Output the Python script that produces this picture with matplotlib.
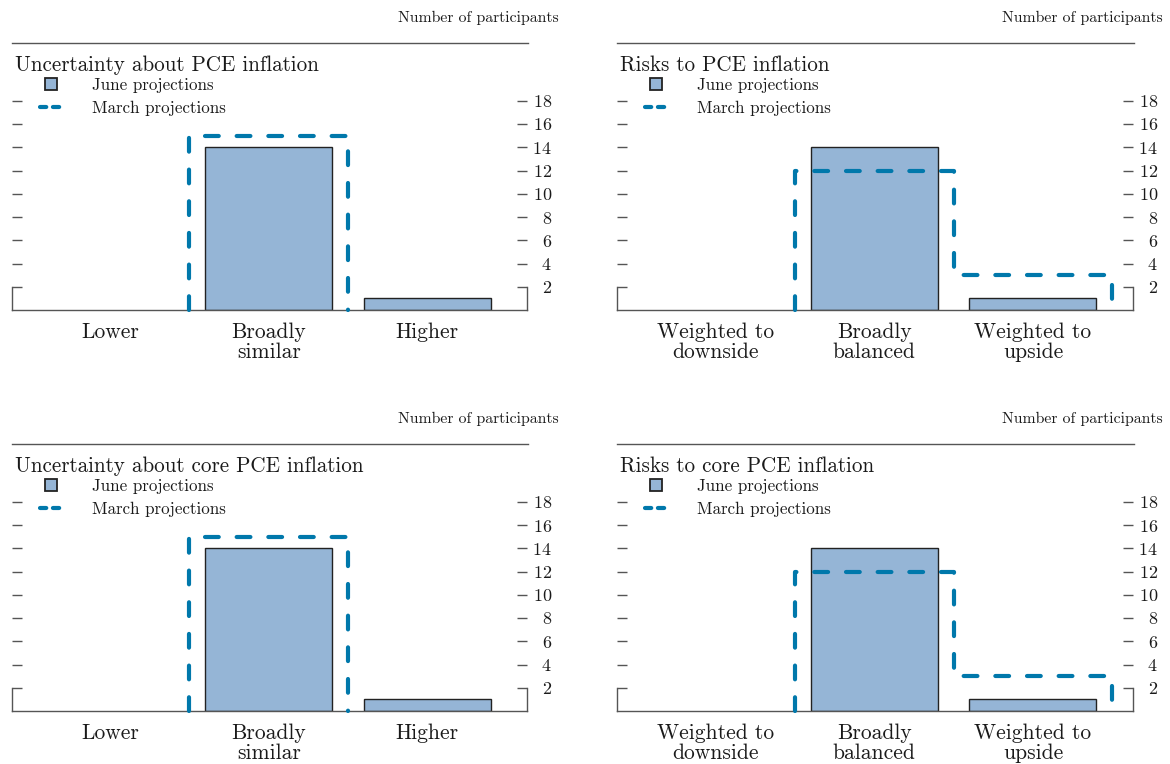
import matplotlib
matplotlib.use("Agg")
import matplotlib.pyplot as plt
from matplotlib.lines import Line2D

plt.rcParams['font.family'] = ['cmr10', 'DejaVu Serif']
plt.rcParams['axes.unicode_minus'] = False
plt.rcParams['mathtext.fontset'] = 'cm'
plt.rcParams['axes.formatter.use_mathtext'] = True

# ---- data ----
categories_uncertainty = ["Lower", "Broadly\nsimilar", "Higher"]
categories_risks = ["Weighted to\ndownside", "Broadly\nbalanced", "Weighted to\nupside"]

june_pce_uncertainty = [0, 14, 1]
march_pce_uncertainty = [0, 15, 0]
june_pce_risks = [0, 14, 1]
march_pce_risks = [0, 12, 3]
june_core_uncertainty = [0, 14, 1]
march_core_uncertainty = [0, 15, 0]
june_core_risks = [0, 14, 1]
march_core_risks = [0, 12, 3]

titles = ["Uncertainty about PCE inflation", "Risks to PCE inflation",
          "Uncertainty about core PCE inflation", "Risks to core PCE inflation"]
yticks = [2, 4, 6, 8, 10, 12, 14, 16, 18]
unit_label = "Number of participants"
legend_labels = ["June projections", "March projections"]

BAR_COLOR = "#95b5d6"
DASH_COLOR = "#0078ab"
EDGE = "#222222"
SPINE = "#555555"
TEXT = "#1a1a1a"

W, H = 1170, 764
fig = plt.figure(figsize=(W / 100, H / 100), dpi=100)


def fx(x):
    return x / W


def fy(y):
    return 1 - y / H


def step_path(values):
    edges = [i - 0.5 for i in range(len(values) + 1)]
    xs, ys = [edges[0]], [0]
    for i, v in enumerate(values):
        xs += [edges[i], edges[i + 1]]
        ys += [v, v]
    xs.append(edges[-1])
    ys.append(0)
    # trim zero-height segments at both ends
    while len(ys) > 2 and ys[0] == 0 and ys[1] == 0:
        xs.pop(0); ys.pop(0)
    while len(ys) > 2 and ys[-1] == 0 and ys[-2] == 0:
        xs.pop(); ys.pop()
    return xs, ys


panels = [
    (12, 527, 310, titles[0], categories_uncertainty, june_pce_uncertainty, march_pce_uncertainty, 559),
    (617, 1133, 310, titles[1], categories_risks, june_pce_risks, march_pce_risks, 1163),
    (12, 527, 711, titles[2], categories_uncertainty, june_core_uncertainty, march_core_uncertainty, 559),
    (617, 1133, 711, titles[3], categories_risks, june_core_risks, march_core_risks, 1163),
]

for (l, r, b, title, cats, june, march, txt_right) in panels:
    top = b - 20 * 11.625
    ax = fig.add_axes([fx(l), fy(b), fx(r - l), (b - top) / H])
    x = list(range(len(cats)))
    lws = [1.0 if v > 0 else 0 for v in june]
    ax.bar(x, june, width=0.8, color=BAR_COLOR, edgecolor=EDGE, linewidth=lws, zorder=2)
    xs, ys = step_path(march)
    ax.plot(xs, ys, color=DASH_COLOR, linewidth=3.0, linestyle=(0, (3.3, 4.3)),
            dash_capstyle='round', solid_capstyle='round', zorder=3, clip_on=False)
    ax.set_xlim(-0.62, 2.63)
    ax.set_ylim(0, 20)
    ax.set_xticks(x)
    ax.set_xticklabels(cats, fontsize=15.5, linespacing=1.05)
    ax.tick_params(axis='x', length=0, pad=9, colors=TEXT)
    ax.set_yticks(yticks)
    ax.yaxis.set_ticks_position('both')
    ax.tick_params(axis='y', direction='in', length=7.5, width=1.0, color=SPINE,
                   labelleft=False, labelright=True, pad=18, labelsize=13,
                   labelcolor=TEXT)
    for lab in ax.get_yticklabels():
        lab.set_horizontalalignment('right')
    ax.spines['top'].set_visible(False)
    for s in ['left', 'right']:
        ax.spines[s].set_bounds(0, 2)
    for s in ['left', 'right', 'bottom']:
        ax.spines[s].set_color(SPINE)
        ax.spines[s].set_linewidth(1.0)
    ax.patch.set_alpha(0)

    off = b - 310
    fig.text(fx(txt_right), fy(18 + off), unit_label, ha='right', va='center',
             fontsize=11.3, color=TEXT)
    fig.add_artist(Line2D([fx(l), fx(r + 1)], [fy(43 + off), fy(43 + off)],
                          color=SPINE, linewidth=1.0))
    fig.text(fx(l + 3), fy(65 + off), title, ha='left', va='center', fontsize=15.2,
             color=TEXT)
    handles = [
        Line2D([], [], marker='s', linestyle='none', markersize=9,
               markerfacecolor=BAR_COLOR, markeredgecolor=EDGE, markeredgewidth=1.3),
        Line2D([], [], color=DASH_COLOR, linewidth=3.0, linestyle=(0, (1.5, 1.6)),
               dash_capstyle='round'),
    ]
    leg = fig.legend(handles, legend_labels, loc='upper left',
                     bbox_to_anchor=(fx(l + 28), fy(78 + off)), frameon=False,
                     fontsize=12.2, handlelength=1.3, handletextpad=1.75,
                     labelspacing=0.45, borderaxespad=0, borderpad=0,
                     labelcolor=TEXT)

fig.savefig("out.png", dpi=100)
